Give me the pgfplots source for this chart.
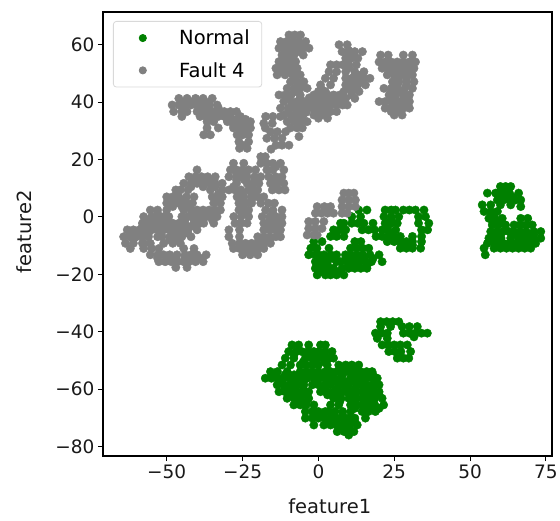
\documentclass[border=0pt]{standalone}
\usepackage{pgfplots}
\pgfplotsset{compat=1.18}
\usepackage{fontspec}
\setmainfont{DejaVu Sans}
\definecolor{gn}{RGB}{0,128,0}
\definecolor{gy}{RGB}{128,128,128}
\begin{document}
\begin{tikzpicture}[x=1pt,y=1pt]
\path[use as bounding box] (-103,-64) rectangle (457,456);
\begin{axis}[
 at={(0,0)},anchor=south west,
 scale only axis,width=449pt,height=444pt,
 xmin=-71,xmax=77,ymin=-83.3,ymax=71.4,
 axis line style={black,line width=1.2pt},
 tick style={black,line width=0.9pt},
 tick align=outside,major tick length=5pt,
 xtick={-50,-25,0,25,50,75},xticklabels={−50,−25,0,25,50,75},
 ytick={-80,-60,-40,-20,0,20,40,60},yticklabels={−80,−60,−40,−20,0,20,40,60},
 xtick pos=bottom,ytick pos=left,
 tick label style={font=\fontsize{18.5}{20}\selectfont,text=black!90},
 label style={font=\fontsize{19.5}{21}\selectfont,text=black!90},
 xlabel={feature1},ylabel={feature2},
 xlabel style={at={(axis description cs:0.505,0)},anchor=north,yshift=-39pt},
 ylabel style={at={(axis description cs:0,0.505)},anchor=south,yshift=68pt},
 legend cell align=left,
 legend style={at={(10pt,435pt)},anchor=north west,draw=black!15,line width=0.8pt,rounded corners=3pt,
   font=\fontsize{19.5}{22}\selectfont,inner xsep=10pt,inner ysep=6.5pt,row sep=12pt},
 legend image code/.code={\path (0pt,0pt) (53pt,0pt);\draw[only marks,mark=*,mark size=3.6pt,#1] plot coordinates {(19pt,0pt)};},
]
\addplot[only marks,color=gn,mark=*,mark size=4.2pt] coordinates {
(13.3,2.4)(16,2.4)(22,2.4)(24,2.4)(25.4,2.4)(28,2.4)(30,2.4)(32,2.4)(34.8,2.4)
(11,0.1)(13.9,0.1)(21.6,0.1)(24,0.1)(26.5,0.1)(33,0.1)(35.3,0.1)
(7.3,-2.2)(8.4,-2.2)(11,-2.2)(13,-2.2)(15,-2.2)(18,-2.2)(22,-2.2)(24,-2.2)(26,-2.2)(33,-2.2)(36.4,-2.2)
(5,-4.5)(7,-4.5)(9,-4.5)(14.4,-4.5)(16.5,-4.5)(18.5,-4.5)(21,-4.5)(23,-4.5)(25.5,-4.5)(34,-4.5)(36,-4.5)
(4,-6.8)(6,-6.8)(8.4,-6.8)(19,-6.8)(21,-6.8)(23,-6.8)(25,-6.8)(27,-6.8)(31,-6.8)(34,-6.8)
(-1.5,-8.6)(1.2,-8.6)(12,-8.6)(14,-8.6)(22.7,-8.6)(25,-8.6)(27,-8.6)(29,-8.6)(31,-8.6)(34,-8.6)
(-2.5,-10.9)(-0.5,-10.9)(3.5,-10.9)(10.6,-10.9)(12.6,-10.9)(14.6,-10.9)(16.6,-10.9)(27,-10.9)(29,-10.9)(31,-10.9)(33.7,-10.9)
(-3.2,-13.2)(-1,-13.2)(0,-13.2)(1.8,-13.2)(4,-13.2)(6,-13.2)(8.9,-13.2)(10.6,-13.2)(12.6,-13.2)(14.6,-13.2)(17,-13.2)(20,-13.2)
(-1,-15.6)(1,-15.6)(3,-15.6)(6,-15.6)(7.3,-15.6)(9.5,-15.6)(11.5,-15.6)(13.5,-15.6)(15.5,-15.6)(17.5,-15.6)(21,-15.6)
(-1,-17.9)(1,-17.9)(3,-17.9)(5,-17.9)(7.8,-17.9)(10,-17.9)(12,-17.9)(14,-17.9)(16,-17.9)
(-0.4,-20.2)(2.3,-20.2)(4,-20.2)(6,-20.2)(8.4,-20.2)
(0,-14.5)(3,-14.5)(5,-14.5)(9,-14.5)(12,-14.5)(15,-14.5)(18,-14.5)(1,-16.8)(3,-16.8)(10,-16.8)(13,-16.8)(16,-16.8)(1,-19)(3,-19)(7,-19)(23.5,-5.5)(24,-1)(29,-9.8)(31,-9.8)
(60,10.6)(61.7,10.6)(63.4,10.6)
(55.7,8.3)(58.4,8.3)(59,8.3)(61,8.3)(63,8.3)(66,8.3)
(59,5.9)(61,5.9)(63,5.9)(65,5.9)(66.7,5.9)
(54,4.2)(56.8,4.2)(60,4.2)(63.4,4.2)(66.7,3.6)
(54.6,1.9)(56.8,1.9)(59,1.9)
(56.2,-0.5)(58.2,-0.5)(60.6,-0.5)(66.7,-0.5)(69,-0.5)
(57.3,-2.8)(59.3,-2.8)(61.7,-2.8)(64.5,-2.8)(66.5,-2.8)(68.5,-2.8)(70.5,-2.8)
(56.8,-5.1)(58.8,-5.1)(60.8,-5.1)(62.8,-5.1)(64.5,-5.1)(66.5,-5.1)(68.5,-5.1)(71,-5.1)(73.3,-5.1)
(56.2,-7.4)(58.2,-7.4)(60.2,-7.4)(63.4,-7.4)(66.7,-7.4)(69,-7.4)(71,-7.4)(73.3,-7.4)
(55.7,-9.2)(58,-9.2)(60,-9.2)(61,-9.2)(63,-9.2)(65,-9.2)(67,-9.2)(69,-9.2)(71.6,-9.2)
(54.6,-10.9)(57.9,-10.9)(60,-10.9)(62,-10.9)(64,-10.9)(66,-10.9)(68,-10.9)(70,-10.9)
(55,-13.2)
(65,-6.2)(67,-6.2)(69,-6.2)(71,-6.2)(58,-6.3)(60,-6.3)(62,6.9)(64,6.9)(60,6.9)(66,-8.3)(68,-8.3)(70,-8.3)(64,-10)(67,-10)(58,-1.7)(60,-1.7)(60,-8)(57.5,-8)(57,0.8)
(20.5,-36.5)(22.5,-36.5)(24.5,-36.5)(26.5,-36.5)
(20.5,-38.2)(23.8,-38.2)(27.6,-38.2)(30,-38.2)(32.6,-38.2)
(18.8,-40.5)(20.8,-40.5)(22.7,-40.5)(28,-40.5)(30,-40.5)(32,-40.5)(34,-40.5)(35.9,-40.5)
(19.4,-42.3)(22.7,-42.3)(31.5,-41.8)
(21,-44.6)(23,-44.6)(25,-44.6)(27,-44.6)(29.3,-44.6)
(23.2,-46.9)(25.2,-46.9)(27.2,-46.9)(30.4,-46.9)
(26,-49.2)(28,-49.2)(29.8,-49.2)
(-8.7,-44.6)(-6.5,-44.6)(-3.2,-44.6)(0.7,-44.6)(2.3,-44.6)
(-9.8,-46.9)(-7.5,-46.9)(-5.5,-46.9)(-3.5,-46.9)(-1.5,-46.9)(0.1,-46.9)(2.3,-46.9)(4.5,-46.9)
(-10.9,-49.2)(-8.1,-49.2)(-4.3,-49.2)(-2.3,-49.2)(-0.3,-49.2)(1.7,-49.2)(3.7,-49.2)(5,-49.2)
(-12,-51.6)(-9.2,-51.6)(-6,-51.6)(-4,-51.6)(-2,-51.6)(0,-51.6)(2.9,-51.6)(6.7,-51.6)(9,-51.6)(11,-51.6)(13.3,-51.6)
(-15.8,-53.9)(-13.5,-53.9)(-10.3,-53.9)(-6,-53.9)(-4,-53.9)(-2,-53.9)(0,-53.9)(2.3,-53.9)(4,-53.9)(6,-53.9)(8,-53.9)(10,-53.9)(12.2,-53.9)(13.9,-53.9)(15.9,-53.9)(17.7,-53.9)
(-17.5,-56.2)(-15.5,-56.2)(-13.5,-56.2)(-11.5,-56.2)(-9.5,-56.2)(-7,-56.2)(-4.8,-56.2)(-3.7,-56.2)(-1.5,-56.2)(0.5,-56.2)(2.5,-56.2)(5,-56.2)(7.3,-56.2)(10.6,-56.2)(11.7,-56.2)(13.7,-56.2)(15.7,-56.2)(17.7,-56.2)(19.4,-56.2)
(-13.6,-58.5)(-11.5,-58.5)(-9.5,-58.5)(-7,-58.5)(-4.8,-58.5)(-2,-58.5)(0,-58.5)(2,-58.5)(4,-58.5)(6.7,-58.5)(7.8,-58.5)(10,-58.5)(12.8,-58.5)(13.9,-58.5)(16,-58.5)(18,-58.5)(20,-58.5)
(-13,-60.9)(-11,-60.9)(-9,-60.9)(-7,-60.9)(-5,-60.9)(-3.2,-60.9)(0.7,-60.9)(3,-60.9)(5,-60.9)(7,-60.9)(9,-60.9)(10.6,-60.9)(12.6,-60.9)(14.6,-60.9)(16.6,-60.9)(18.6,-60.9)(20,-60.9)
(-10.3,-63.2)(-8,-63.2)(-6,-63.2)(-3.2,-63.2)(5,-63.2)(7.5,-63.2)(10,-63.2)(10.6,-63.2)(12.6,-63.2)(14.6,-63.2)(16.6,-63.2)(18.6,-63.2)(21,-63.2)
(-8.1,-65.5)(-6,-65.5)(-4,-65.5)(-1.5,-65.5)(4,-65.5)(6.7,-65.5)(10.6,-65.5)(12.6,-65.5)(14.6,-65.5)(16.6,-65.5)(18.6,-65.5)(21.5,-65.5)
(-4.3,-67.8)(-2,-67.8)(0,-67.8)(2.3,-67.8)(3.4,-67.8)(5.5,-67.8)(8,-67.8)(10.6,-67.8)(14.4,-67.8)(16.5,-67.8)(18.8,-67.8)
(-4.3,-70.1)(-2,-70.1)(0,-70.1)(2,-70.1)(4,-70.1)(6,-70.1)(8,-70.1)(10,-70.1)(12,-70.1)(15.5,-70.1)
(-1.5,-72.5)(1.8,-72.5)(4,-72.5)(6,-72.5)(8,-72.5)(10.5,-72.5)(12.8,-72.5)
(6.2,-74.8)(8.5,-74.8)(10.5,-74.8)(11.7,-74.8)(10,-76)
(-8,-48)(-4,-48)(-1,-48)(2,-48)(-5,-50.5)(-1,-50.5)(2,-50.5)(8,-52.7)(11,-52.7)
(-14,-55)(-11,-55)(-8,-55)(-5,-55)(-2,-55)(1,-55)(4,-55)(8,-55)(12,-55)(15,-55)(18,-55)
(-12,-57.5)(-8,-57.5)(-5,-57.5)(-1,-57.5)(3,-57.5)(6,-57.5)(9,-57.5)(12,-57.5)(15,-57.5)(19,-57.5)
(-11,-60)(-8,-60)(-5,-60)(2,-60)(6,-60)(9,-60)(12,-60)(15,-60)(18,-60)
(-9,-62)(-6,-62)(-4,-62)(3,-62)(7,-62)(12,-62)(15,-62)(18,-62)(20,-62)
(-7,-64.5)(-4,-64.5)(7,-64.5)(12,-64.5)(15,-64.5)(18,-64.5)
(12,-66.7)(15,-66.7)(18,-66.7)(20,-66.7)
(-1,-69)(1,-69)(5,-69)(8,-69)(3,-71.3)(6,-71.3)(9,-71.3)(12,-71.3)(8,-73.6)(10,-73.6)
};
\addlegendentry{Normal}
\addplot[only marks,color=gy,mark=*,mark size=4.2pt] coordinates {
(8.4,8.3)(10,8.3)(11.7,8.3)
(7.8,5.9)(10,5.9)(12.2,5.9)
(-0.4,3.6)(2,3.6)(4,3.6)(7.8,3.6)(10,3.6)(12.2,3.6)
(-1,1.3)(1,1.3)(3,1.3)(5,1.3)(7.8,1.3)(9.5,1.3)
(-3.2,-1.6)(-1,-1.6)(1.8,-1.6)
(-3.2,-4)(-1,-4)(1.2,-4)
(-3.7,-6.3)(-1.5,-6.3)(-0.4,-6.3)
(6.8,60)(9.5,60)
(7.8,57.6)(10,57.6)(12,57.6)(14.5,57.6)
(9,55.3)(11,55.3)(13,55.3)
(4,53)(6,53)(8,53)(10,53)(12.5,53)
(3.5,50.6)(6,50.6)(9,50.6)(12,50.6)(15,50.6)
(2.3,48.3)(5,48.3)(9,48.3)(11,48.3)(13,48.3)(15,48.3)(17,48.3)
(0.7,46)(4,46)(9,46)(11,46)(13,46)(15.5,46)
(0,43.7)(2.3,43.7)(8.4,43.7)(11,43.7)(13.4,43.7)
(-0.4,41.3)(2,41.3)(5,41.3)(7,41.3)(9,41.3)(12,41.3)
(-0.4,39)(2,39)(4,39)(6,39)(8,39)(9.5,39)
(-0.4,36.7)(2,36.7)(4,36.7)(6,36.7)
(0,34.4)(3,34.4)
(20.5,56.4)(23,56.4)(28,56.4)(31,56.4)
(20,54)(22,54)(24,54)(26,54)(28,54)(30,54)(32,54)
(21,51.8)(23,51.8)(25,51.8)(27,51.8)(29,51.8)(31.5,51.8)
(22.7,49.5)(25,49.5)(27,49.5)(29,49.5)(31,49.5)
(24.4,47.1)(26.5,47.1)(29,47.1)(31.5,47.1)
(21.6,44.8)(24,44.8)(26,44.8)(28.5,44.8)(31,44.8)
(23.3,42.5)(25.5,42.5)(28,42.5)(30,42.5)
(20,40.2)(22,40.2)(24,40.2)(26,40.2)(28,40.2)(30,40.2)
(22,37.9)(24,37.9)(26,37.9)(28,37.9)(30,37.9)
(25,35.5)(27.6,35.5)
(-9.7,63.4)(-7.8,63.4)(-5.9,63.4)
(-12.5,61.1)(-10.5,61.1)(-8.5,61.1)(-6.5,61.1)(-4.2,61.1)
(-13,58.8)(-11,58.8)(-9,58.8)(-7,58.8)(-5,58.8)(-3.1,58.8)
(-12,56.4)(-10,56.4)(-8,56.4)(-5,56.4)
(-13,54.1)(-11,54.1)(-9,54.1)(-7.5,54.1)
(-14,51.8)(-11.5,51.8)(-9,51.8)(-7,51.8)
(-13.6,49.5)(-11,49.5)(-8.5,49.5)(-6,49.5)
(-9.2,47.1)(-7,47.1)(-4.8,47.1)
(-10.3,44.8)(-8,44.8)(-6,44.8)(-3.7,44.8)
(-13,42.5)(-11,42.5)(-9,42.5)(-6,42.5)(-1.5,42.5)(1,42.5)(3,42.5)(5,42.5)(7,42.5)
(-11.4,40.2)(-9,40.2)(-7,40.2)(-5,40.2)(-3,40.2)(-1,40.2)(1,40.2)(5,40.2)(7,40.2)
(-12.5,37.9)(-10,37.9)(-8,37.9)(-6,37.9)(-4,37.9)(-2,37.9)(-0.4,37.9)
(-11.4,35.5)(-9,35.5)(-7,35.5)(-5,35.5)(-1.5,35.5)(1,35.5)
(-10.3,33.2)(-8,33.2)(-5.9,33.2)(-3.7,33.2)
(-9.2,31)(-7,31)(-5.3,31)
(-6.4,28)
(-17.4,35)(-15,35)(-12.5,35)
(-18,32.6)(-15.2,32.6)
(-17.5,31)
(-15.8,29.7)(-13.5,29.7)(-10.8,29.7)
(-17,27.4)(-14.5,27.4)(-12,27.4)
(-14,25)(-12,25)(-9.7,25)
(-15.6,23.6)
(-46,41.3)(-43.3,41.3)(-40.5,41.3)(-38,41.3)(-35,41.3)
(-48.2,39)(-46,39)(-44,39)(-42,39)(-40,39)(-38,39)(-36,39)(-33.4,39)
(-47.7,36.7)(-45,36.7)(-43.3,36.7)(-40,36.7)(-38,36.7)(-36,36.7)(-34,36.7)(-31,36.7)(-29,36.7)(-27,36.7)
(-45,35)(-39,35)(-37,35)(-35,35)(-33,35)(-31,35)(-29,35)(-25.7,35)
(-36.7,33.2)(-34.5,33.2)(-30,33.2)(-28,33.2)(-26,33.2)(-24,33.2)(-22.4,33.2)
(-36.7,31)(-33,31)(-28,31)(-26,31)(-24,31)(-22.4,31)
(-37.8,28.6)(-35.6,28.6)(-26.8,28.6)(-25,28.6)(-23,28.6)
(-26.2,26.2)(-23,26.2)
(-26,23.9)(-23.5,23.9)
(-19,21)(-17.5,21)
(-19,18.7)(-17,18.7)(-15,18.7)(-12.5,18.7)(-28,18.7)(-24.6,18.7)
(-40,16.4)(-29,16.4)(-27,16.4)(-25,16.4)(-23,16.4)(-20.7,16.4)(-17,16.4)(-15,16.4)(-11.4,16.4)
(-42.7,14)(-40.5,14)(-38.5,14)(-36.5,14)(-34,14)(-29.5,14)(-27,14)(-25.7,14)(-23.5,14)(-21,14)(-19,14)(-16.4,14)(-14,14)(-12,14)
(-44.4,11.7)(-42,11.7)(-40,11.7)(-38,11.7)(-36,11.7)(-34,11.7)(-31.7,11.7)(-27,11.7)(-23.5,11.7)(-21.5,11.7)(-19.6,11.7)(-15.8,11.7)(-13.5,11.7)(-11.4,11.7)
(-47,9.4)(-45.5,9.4)(-43,9.4)(-35.6,9.4)(-31.7,9.4)(-29.5,9.4)(-27.5,9.4)(-25.5,9.4)(-23,9.4)(-20,9.4)(-15.2,9.4)(-13,9.4)(-11,9.4)
(-50,7)(-48,7)(-46,7)(-43.5,7)(-41,7)(-35,7)(-31.7,7)(-26.8,7)(-24.5,7)(-22,7)(-20,7)(-18,7)
(-50,4.8)(-48,4.8)(-46,4.8)(-43.5,4.8)(-41.5,4.8)(-34.5,4.8)(-32.3,4.8)(-26.2,4.8)(-24,4.8)(-22,4.8)(-19,4.8)(-16.5,4.8)(-14.5,4.8)
(-55.4,2.4)(-53,2.4)(-50,2.4)(-44.4,2.4)(-42,2.4)(-40,2.4)(-38,2.4)(-36,2.4)(-34,2.4)(-32.3,2.4)(-26.2,2.4)(-23,2.4)(-17.4,2.4)(-15,2.4)(-12,2.4)
(-57.6,0.1)(-55,0.1)(-53,0.1)(-51,0.1)(-49.3,0.1)(-45,0.1)(-43,0.1)(-41,0.1)(-39,0.1)(-37,0.1)(-35,0.1)(-33.4,0.1)(-27.9,0.1)(-25.5,0.1)(-23,0.1)(-18.5,0.1)(-16,0.1)(-14,0.1)(-12,0.1)
(-58,-2.2)(-56,-2.2)(-54,-2.2)(-52,-2.2)(-50,-2.2)(-48,-2.2)(-46,-2.2)(-44,-2.2)(-41,-2.2)(-39,-2.2)(-37.8,-2.2)(-34.5,-2.2)(-27.5,-2.2)(-25.5,-2.2)(-23.5,-2.2)(-18,-2.2)(-16,-2.2)(-14,-2.2)(-12,-2.2)
(-63,-4.5)(-61,-4.5)(-59,-4.5)(-57,-4.5)(-55,-4.5)(-53,-4.5)(-51,-4.5)(-49,-4.5)(-47,-4.5)(-45,-4.5)(-43,-4.5)(-40,-4.5)(-29.5,-4.5)(-26,-4.5)(-18,-4.5)(-16,-4.5)(-14,-4.5)(-12.5,-4.5)
(-64.2,-6.9)(-62,-6.9)(-60,-6.9)(-58,-6.9)(-56,-6.9)(-53,-6.9)(-51.5,-6.9)(-49,-6.9)(-47,-6.9)(-45,-6.9)(-42,-6.9)(-29.5,-6.9)(-26,-6.9)(-20,-6.9)(-18,-6.9)(-16,-6.9)(-14,-6.9)(-12.5,-6.9)
(-63.6,-9.2)(-61,-9.2)(-58,-9.2)(-57.6,-9.2)(-55.4,-9.2)(-51,-9.2)(-48,-9.2)(-45.5,-9.2)(-28.4,-9.2)(-26,-9.2)(-24,-9.2)(-22,-9.2)(-20,-9.2)(-18,-9.2)(-15.8,-9.2)
(-62,-11)(-57.6,-11)(-55,-11)(-52.6,-11)(-44.4,-11)(-41,-11)(-28,-11)(-26,-11)(-24,-11)(-22,-11)(-20,-11)(-18,-11)
(-55.4,-13.2)(-53,-13.2)(-51,-13.2)(-49,-13.2)(-46.6,-13.2)(-44,-13.2)(-42,-13.2)(-40,-13.2)(-37,-13.2)(-25,-13.2)(-22.5,-13.2)(-20,-13.2)
(-52.6,-15.6)(-50.5,-15.6)(-48.5,-15.6)(-46.5,-15.6)(-44.4,-15.6)(-42.7,-15.6)(-40.5,-15.6)(-38,-15.6)
(-47,-17.6)(-43.3,-17.6)
(-11,60)(-9,60)(-7,60)(-5,60)(-11,57.5)(-9,57.5)(-6,57.5)(-12,53)(-10,53)(-8,53)(-12,50.5)(-10,50.5)(-8,50.5)(-8,48)(-6,46)(-8,43.5)(-6,41.5)(-10,41.5)(-8,39)(-6,39)(-4,39)(-2,39)(-10,36.5)(-7,36.5)(-4,36.5)(-8,34.3)(-6,34.3)
(-1,37)(1,38)(3,38)(3,41)(1,44.5)(-3,41.5)
(10,52)(12,49.5)(14,49.5)(10,47)(12,47)(14,47)(10,44.8)(12,44.8)(8,42.5)(11,42.5)(10,58)
(22,53)(24,53)(27,53)(30,53)(24,50.6)(27,50.6)(30,50.6)(26,48.2)(29,48.2)(26,46)(29,46)(24,43.6)(27,43.6)(25,41.3)(28,41.3)(25,39)(28,39)(24,36.7)(27,36.7)
(-45,40)(-42,40)(-39,40)(-36,40)(-39,38)(-36,38)(-33,38)(-38,36)(-35,36)(-32,36)(-30,34)(-27,34)(-24,34)(-28,32)(-25,32)(-25,29.7)(-25,25)
(-41,13)(-38,13)(-35,13)(-42,10.5)(-38,10.5)(-34,10.5)(-33,8)(-33,6)(-47,6)(-44,6)(-48,3.6)(-45,3.6)(-43,3.6)(-41,1.2)(-38,1.2)(-35,1.2)(-53,1.2)(-56,-1)(-52,-1)(-44,-1)(-41,-1)(-38,-1)(-35,-1)(-58,-3.3)(-55,-3.3)(-52,-3.3)(-48,-3.3)(-45,-3.3)(-42,-3.3)(-62,-5.7)(-59,-5.7)(-56,-5.7)(-52,-5.7)(-48,-5.7)(-45,-5.7)(-43,-5.7)(-61,-8)(-49,-8)(-46,-8)
(-53,-14.4)(-50,-14.4)(-47,-14.4)(-44,-14.4)(-41,-14.4)(-39,-14.4)(-24,-12)(-21,-12)(-25,-10)(-22,-10)(-19,-10)(-16,-8)(-19,-8)(-14,-3.3)(-16,-3.3)(-14,-1)(-16,-1)(-15,1.2)
(-27,13)(-24.5,13)(-21,13)(-22,10.5)(-28,10.5)(-25,8.2)(-22,8.2)(-25,6)(-22,6)(-25,3.6)(-25,1.2)(-15,13)(-13,13)(-14,10.5)(-14,17.5)(-24,15.2)(-27,15.2)
};
\addlegendentry{Fault 4}
\end{axis}
\end{tikzpicture}
\end{document}
